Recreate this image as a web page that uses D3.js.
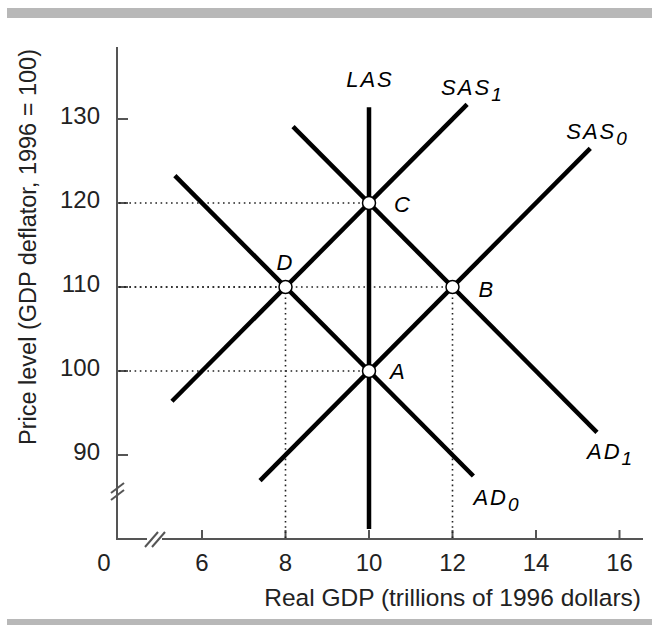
<!DOCTYPE html>
<html>
<head>
<meta charset="utf-8">
<script src="https://cdn.jsdelivr.net/npm/d3@7"></script>
<style>
  body { margin: 0; background: #fff; }
  text { font-family: "Liberation Sans", Arial, sans-serif; }
  .lbl { font-style: italic; letter-spacing: 2px; font-size: 22px; }
</style>
</head>
<body>
<svg id="chart"></svg>
<script>
// x ticks (trillions of 1996 dollars) and y ticks (price level)
const xTicks = [6, 8, 10, 12, 14, 16];
const yTicks = [90, 100, 110, 120, 130];

// curves: name and two ends [x, price]
const curveNames = ["LAS", "SAS1", "SAS0", "AD0", "AD1"];
const curveEnds = [
  [[10, 131.4], [10, 81.2]],
  [[5.28, 96.4], [12.35, 131.75]],
  [[7.39, 86.95], [15.3, 126.5]],
  [[5.35, 123.25], [12.5, 87.5]],
  [[8.18, 129.1], [15.46, 92.7]]
];

// equilibrium points
const pointNames = ["A", "B", "C", "D"];
const pointX = [10, 12, 10, 8];
const pointY = [100, 110, 120, 110];

const W = 652, H = 625;
const svg = d3.select("#chart").attr("width", W).attr("height", H);

const x = d3.scaleLinear().domain([10, 16]).range([369, 619.5]);
const y = d3.scaleLinear().domain([90, 130]).range([455, 119]);
const x0 = 117, yBase = 539;

// gray bars
svg.append("rect").attr("x", 7).attr("y", 8).attr("width", W - 7).attr("height", 10).attr("fill", "#b8b8b8");
svg.append("rect").attr("x", 7).attr("y", 619).attr("width", W - 7).attr("height", 8).attr("fill", "#b8b8b8");

const axisColor = "#555";
// y axis line
svg.append("line").attr("x1", x0).attr("x2", x0).attr("y1", 47).attr("y2", yBase)
  .attr("stroke", axisColor).attr("stroke-width", 2);
// x axis line with break
svg.append("line").attr("x1", x0 - 1).attr("x2", 147).attr("y1", yBase).attr("y2", yBase)
  .attr("stroke", axisColor).attr("stroke-width", 2);
svg.append("line").attr("x1", 162).attr("x2", 643).attr("y1", yBase).attr("y2", yBase)
  .attr("stroke", axisColor).attr("stroke-width", 2);

// break marks
const brk = svg.append("g").attr("stroke", axisColor).attr("stroke-width", 2);
[0, 7].forEach(o => {
  brk.append("line").attr("x1", 145 + o).attr("y1", 547).attr("x2", 158 + o).attr("y2", 532);
  brk.append("line").attr("x1", 111).attr("y1", 493 + o).attr("x2", 124).attr("y2", 483 + o);
});

// ticks
svg.append("g").selectAll("line").data(xTicks).join("line")
  .attr("x1", d => x(d)).attr("x2", d => x(d)).attr("y1", yBase).attr("y2", yBase - 9)
  .attr("stroke", axisColor).attr("stroke-width", 2);
svg.append("g").selectAll("line").data(yTicks).join("line")
  .attr("x1", x0).attr("x2", x0 + 11).attr("y1", d => y(d)).attr("y2", d => y(d))
  .attr("stroke", axisColor).attr("stroke-width", 2);

svg.append("g").selectAll("text").data(xTicks).join("text")
  .attr("x", d => x(d)).attr("y", 571).attr("text-anchor", "middle")
  .attr("font-size", 24).attr("fill", "#222").text(d => d);
svg.append("text").attr("x", 104).attr("y", 571).attr("text-anchor", "middle")
  .attr("font-size", 24).attr("fill", "#222").text("0");
svg.append("g").selectAll("text").data(yTicks).join("text")
  .attr("x", 100).attr("y", d => y(d) + 5).attr("text-anchor", "end")
  .attr("font-size", 24).attr("fill", "#222").text(d => d);

// axis titles
svg.append("text").attr("x", 641).attr("y", 606).attr("text-anchor", "end")
  .attr("font-size", 24.5).attr("fill", "#222").text("Real GDP (trillions of 1996 dollars)");
svg.append("text").attr("transform", "translate(36,247) rotate(-90)").attr("text-anchor", "middle")
  .attr("font-size", 23.5).attr("fill", "#222").text("Price level (GDP deflator, 1996 = 100)");

// dotted guides
const dots = svg.append("g").attr("stroke", "#222").attr("stroke-width", 1.6)
  .attr("stroke-dasharray", "1.6,3.6").attr("fill", "none");
pointNames.forEach((n, i) => {
  dots.append("line").attr("x1", x0 + 2).attr("x2", x(pointX[i]))
    .attr("y1", y(pointY[i])).attr("y2", y(pointY[i]));
  if (pointX[i] !== 10) {
    dots.append("line").attr("x1", x(pointX[i])).attr("x2", x(pointX[i]))
      .attr("y1", y(pointY[i])).attr("y2", yBase - 1);
  }
});

// curves
const line = d3.line().x(d => x(d[0])).y(d => y(d[1]));
svg.append("g").selectAll("path").data(curveEnds).join("path")
  .attr("d", line).attr("stroke", "#000").attr("stroke-width", 4.5).attr("fill", "none");

// points
svg.append("g").selectAll("circle").data(pointNames).join("circle")
  .attr("cx", (d, i) => x(pointX[i])).attr("cy", (d, i) => y(pointY[i])).attr("r", 6.5)
  .attr("fill", "#fff").attr("stroke", "#000").attr("stroke-width", 1.5);

// point labels, offset from each point
const ptOff = { A: [21, 8], B: [26, 10], C: [25, 9], D: [-9, -17] };
svg.append("g").selectAll("text").data(pointNames).join("text")
  .attr("class", "lbl")
  .attr("x", (d, i) => x(pointX[i]) + ptOff[d][0])
  .attr("y", (d, i) => y(pointY[i]) + ptOff[d][1])
  .text(d => d);

// curve labels, offset from the curve's upper or lower end
function curveLabel(name, base, sub, dx, dy, anchor) {
  const i = curveNames.indexOf(name);
  const end = name === "LAS" ? curveEnds[i][0] : curveEnds[i][1];
  const t = svg.append("text").attr("class", "lbl").attr("text-anchor", anchor || "start")
    .attr("x", x(end[0]) + dx).attr("y", y(end[1]) + dy);
  t.append("tspan").text(base);
  if (sub) t.append("tspan").attr("dy", 6).attr("font-size", 19).attr("letter-spacing", 0).text(sub);
}
curveLabel("LAS", "LAS", null, 1, -20, "middle");
curveLabel("SAS1", "SAS", "1", -26, -9);
curveLabel("SAS0", "SAS", "0", -24, -9);
curveLabel("AD0", "AD", "0", 0, 29);
curveLabel("AD1", "AD", "1", -10, 27);
</script>
</body>
</html>
